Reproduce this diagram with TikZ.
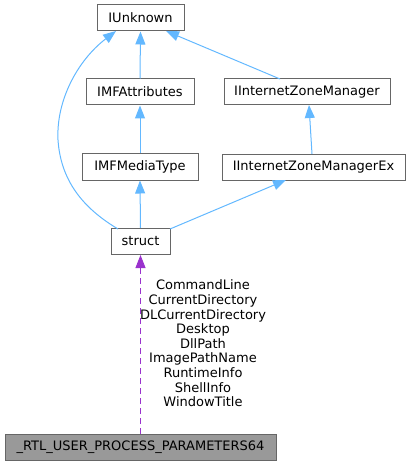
\documentclass[tikz,border=0pt]{standalone}
\usepackage{fontspec}
\setmainfont{DejaVu Sans}
\usetikzlibrary{arrows.meta}
\definecolor{edgeblue}{HTML}{63B8FF}
\definecolor{edgepurple}{HTML}{9A32CD}
\definecolor{boxgray}{HTML}{666666}
\definecolor{fillgray}{HTML}{999999}
\tikzset{
  cls/.style={draw=boxgray, line width=1pt, fill=white, minimum height=26pt, inner sep=0pt,
    font=\fontsize{13}{14.6}\selectfont, text=black},
  inh/.style={draw=edgeblue, line width=1pt, -{Triangle[length=13pt,width=10pt]}},
  usage/.style={draw=edgepurple, line width=1pt, dash pattern=on 6pt off 4pt,
    -{Triangle[length=13pt,width=10pt]}},
}
\begin{document}
\begin{tikzpicture}[x=1pt,y=-1pt]
\useasboundingbox (0,0) rectangle (411,465);
\node[cls, minimum width=87pt] (iunk) at (140.5,18) {IUnknown};
\node[cls, minimum width=108pt] (imfa) at (140,92) {IMFAttributes};
\node[cls, minimum width=166pt] (izm) at (307,92) {IInternetZoneManager};
\node[cls, minimum width=116pt] (imfm) at (140,167) {IMFMediaType};
\node[cls, minimum width=183pt] (izmex) at (313.5,167.5) {IInternetZoneManagerEx};
\node[cls, minimum width=59pt] (st) at (140.5,241.5) {struct};
\node[cls, fill=fillgray, minimum width=271pt] (rtl) at (140.5,447) {\_RTL\_USER\_PROCESS\_PARAMETERS64};
\coordinate (izmtop) at (280,79);
\coordinate (iunkR) at (166,31);
\coordinate (izmexT) at (312,154);
\coordinate (izmB) at (309,105);
\coordinate (stR) at (170,229);
\coordinate (izmexB) at (286,180);
\coordinate (stL) at (118,229);
\coordinate (iunkL) at (116,31);
\draw[inh] (imfa.north) -- (iunk.south);
\draw[inh] (izmtop) -- (iunkR);
\draw[inh] (imfm.north) -- (imfa.south);
\draw[inh] (izmexT) -- (izmB);
\draw[inh] (st.north) -- (imfm.south);
\draw[inh] (stR) -- (izmexB);
\draw[inh] (stL) .. controls (88,211) and (61,185) .. (58,140) .. controls (56,100) and (78,60) .. (iunkL);
\draw[usage] (rtl.north) -- (st.south);
\node[align=center, font=\fontsize{13}{14.6}\selectfont, inner sep=0pt] (lbl) at (203,343.5)
  {CommandLine\\CurrentDirectory\\DLCurrentDirectory\\Desktop\\DllPath\\ImagePathName\\RuntimeInfo\\ShellInfo\\WindowTitle};
\end{tikzpicture}
\end{document}
